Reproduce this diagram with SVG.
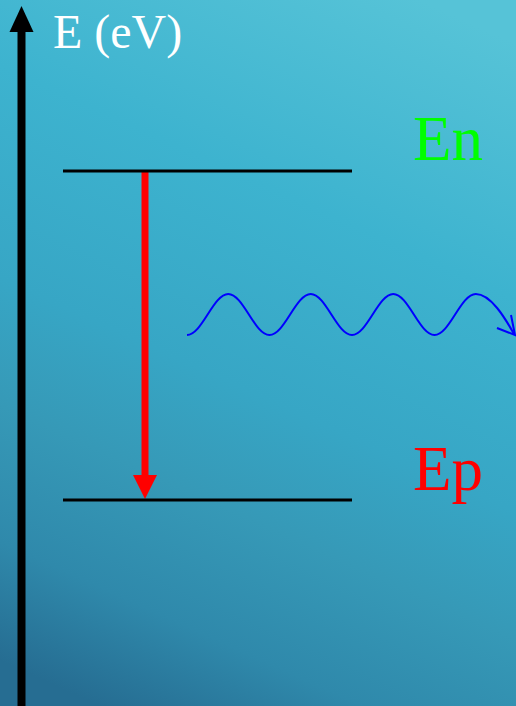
<svg xmlns="http://www.w3.org/2000/svg" width="516" height="706" viewBox="0 0 516 706">
<defs>
<linearGradient id="bg" gradientUnits="userSpaceOnUse" x1="100" y1="706" x2="420" y2="0">
<stop offset="0" stop-color="#266d92"/>
<stop offset="0.14" stop-color="#2f89ab"/>
<stop offset="0.3" stop-color="#3699b7"/>
<stop offset="0.45" stop-color="#37a6c5"/>
<stop offset="0.7" stop-color="#3db3cf"/>
<stop offset="1" stop-color="#56c3d7"/>
</linearGradient>
</defs>
<style>
.level{stroke:#000;stroke-width:3;fill:none}
.lbl{font-family:"Liberation Serif","Times New Roman",serif}
</style>
<rect x="0" y="0" width="516" height="706" fill="url(#bg)"/>
<g id="connectors">
<g id="axis">
<line x1="21.5" y1="706" x2="21.5" y2="30" stroke="#000" stroke-width="8"/>
<path d="M9.5,32 L21.5,6 L33.5,32 Z" fill="#000"/>
</g>
<g id="transition">
<line x1="145" y1="171" x2="145" y2="478" stroke="#ff0000" stroke-width="7"/>
<path d="M133,475 L145,499 L157,475 Z" fill="#ff0000"/>
</g>
<g id="photon">
<path d="M187,335 C202,335 213.25,294 228.25,294 S254.5,335 269.5,335 S295.75,294 310.75,294 S337,335 352,335 S378.25,294 393.25,294 S419.5,335 434.5,335 S460.75,294 475.75,294 S505,318 514,334" fill="none" stroke="#0000ff" stroke-width="2"/>
<polyline points="511,315 515,335 497,328" fill="none" stroke="#0000ff" stroke-width="2"/>
</g>
</g>
<g id="node-En">
<line class="level" x1="63" y1="171" x2="352" y2="171"/>
<text class="lbl" x="413" y="160" font-size="63" fill="#00ff00">En</text>
</g>
<g id="node-Ep">
<line class="level" x1="63" y1="500" x2="352" y2="500"/>
<text class="lbl" x="413" y="490" font-size="63" fill="#ff0000">Ep</text>
</g>
<g id="axis-label">
<text class="lbl" x="53" y="48" font-size="48" fill="#ffffff">E (eV)</text>
</g>
</svg>
